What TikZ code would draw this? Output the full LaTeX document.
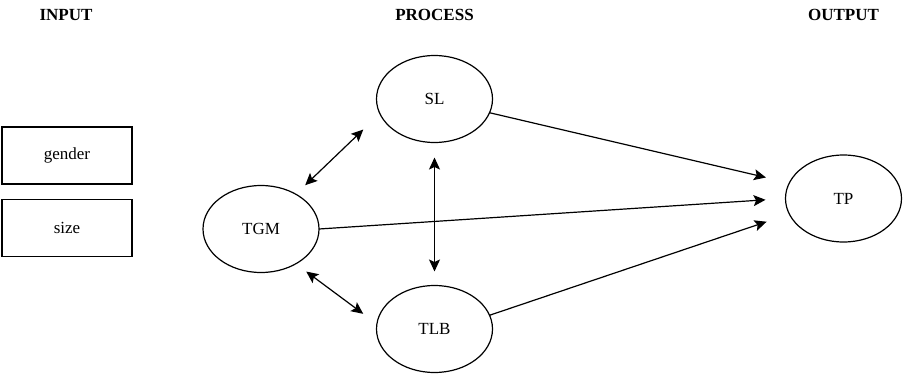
\documentclass[tikz,border=0pt]{standalone}
\usepackage{fontspec}
\setmainfont{Liberation Serif}
\usetikzlibrary{arrows.meta,shapes.geometric}
\begin{document}
\begin{tikzpicture}[x=1pt,y=-1pt,
  every node/.style={font=\fontsize{17}{20}\selectfont},
  head/.style={font=\fontsize{17}{20}\selectfont\bfseries},
  inbox/.style={draw,line width=1.2pt,minimum width=130pt,minimum height=57pt,inner sep=0pt,outer sep=0pt},
  var/.style={draw,ellipse,line width=1.2pt,minimum width=116pt,minimum height=87pt,inner sep=0pt,outer sep=0pt},
  tip/.style={},
  conn/.style={line width=1.2pt,-{Stealth[length=12pt,width=11pt,inset=2.5pt]}},
  bconn/.style={line width=1.2pt,{Stealth[length=12pt,width=11pt,inset=2.5pt]}-{Stealth[length=12pt,width=11pt,inset=2.5pt]}}]
\useasboundingbox (0,0) rectangle (905,375);
\node[head] (hin) at (66,15) {INPUT};
\node[head] (hproc) at (434.5,15) {PROCESS};
\node[head] (hout) at (843.5,15) {OUTPUT};
\node[inbox] (gender) at (67,155.5) {gender};
\node[inbox] (size) at (67,228) {size};
\node[var] (sl) at (434.5,99) {SL};
\node[var] (tgm) at (261,229) {TGM};
\node[var] (tlb) at (434.5,329) {TLB};
\node[var] (tp) at (843.5,198.5) {TP};
\draw[conn,shorten >=24pt] (sl.-14) -- (tp.164);
\draw[conn,shorten >=20pt] (tgm.east) -- (tp.180);
\draw[conn,shorten >=24pt] (tlb.14) -- (tp.196);
\draw[bconn,shorten <=13pt,shorten >=23pt] (tgm.45) -- (sl.195);
\draw[bconn,shorten <=13pt,shorten >=17pt] (tgm.-45) -- (tlb.175);
\draw[bconn,shorten <=15pt,shorten >=14pt] (sl.south) -- (tlb.north);
\end{tikzpicture}
\end{document}
